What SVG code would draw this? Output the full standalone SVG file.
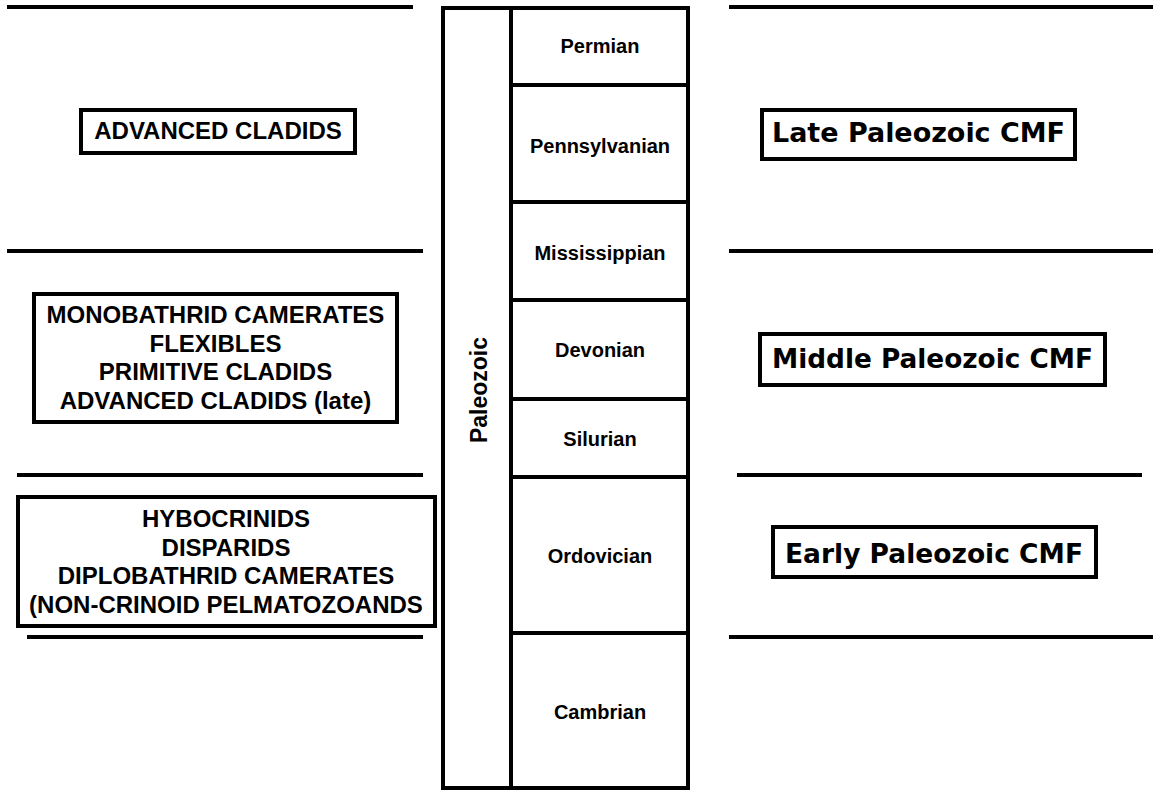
<svg xmlns="http://www.w3.org/2000/svg" width="1156" height="791" viewBox="0 0 1156 791">
<style>
.ln{stroke:#000;stroke-width:4;fill:none}
.bx{stroke:#000;stroke-width:4;fill:#fff}
.lt{font-family:"Liberation Sans",Arial,sans-serif;font-weight:bold;font-size:24px;text-anchor:middle;fill:#000}
.vt{font-family:"Liberation Sans",Arial,sans-serif;font-weight:bold;font-size:23px;text-anchor:middle;fill:#000}
.pt{font-family:"Liberation Sans",Arial,sans-serif;font-weight:bold;font-size:20px;text-anchor:middle;fill:#000}
.ct{font-family:"Comic Sans MS","DejaVu Sans",sans-serif;font-weight:bold;font-size:26px;fill:#000}
</style>
<rect width="1156" height="791" fill="#fff"/>
<g id="connectors">
<line class="ln" x1="7" y1="7" x2="413" y2="7"/>
<line class="ln" x1="7" y1="251" x2="423" y2="251"/>
<line class="ln" x1="17" y1="475" x2="423" y2="475"/>
<line class="ln" x1="27" y1="637" x2="423" y2="637"/>
<line class="ln" x1="729" y1="7" x2="1153" y2="7"/>
<line class="ln" x1="729" y1="251" x2="1153" y2="251"/>
<line class="ln" x1="737" y1="475" x2="1142" y2="475"/>
<line class="ln" x1="729" y1="637" x2="1153" y2="637"/>
</g>
<g id="column">
<rect class="bx" x="443" y="8" width="245" height="780"/>
<line class="ln" x1="511" y1="8" x2="511" y2="788"/>
<line class="ln" x1="511" y1="85" x2="688" y2="85"/>
<line class="ln" x1="511" y1="202" x2="688" y2="202"/>
<line class="ln" x1="511" y1="300" x2="688" y2="300"/>
<line class="ln" x1="511" y1="399" x2="688" y2="399"/>
<line class="ln" x1="511" y1="477" x2="688" y2="477"/>
<line class="ln" x1="511" y1="633" x2="688" y2="633"/>
<text class="vt" transform="translate(487,390) rotate(-90)" x="0" y="0">Paleozoic</text>
<text class="pt" x="600" y="53">Permian</text>
<text class="pt" x="600" y="153">Pennsylvanian</text>
<text class="pt" x="600" y="260">Mississippian</text>
<text class="pt" x="600" y="357">Devonian</text>
<text class="pt" x="600" y="446">Silurian</text>
<text class="pt" x="600" y="563">Ordovician</text>
<text class="pt" x="600" y="719">Cambrian</text>
</g>
<g id="advanced-cladids">
<rect class="bx" x="81" y="110" width="274" height="43"/>
<text class="lt" x="218" y="139">ADVANCED CLADIDS</text>
</g>
<g id="monobathrid">
<rect class="bx" x="34" y="294" width="363" height="128"/>
<text class="lt" x="215.5" y="323">MONOBATHRID CAMERATES</text>
<text class="lt" x="215.5" y="352">FLEXIBLES</text>
<text class="lt" x="215.5" y="380">PRIMITIVE CLADIDS</text>
<text class="lt" x="215.5" y="409">ADVANCED CLADIDS (late)</text>
</g>
<g id="hybocrinids">
<rect class="bx" x="18" y="497" width="417" height="129"/>
<text class="lt" x="226" y="527">HYBOCRINIDS</text>
<text class="lt" x="226" y="556">DISPARIDS</text>
<text class="lt" x="226" y="584">DIPLOBATHRID CAMERATES</text>
<text class="lt" x="226" y="613">(NON-CRINOID PELMATOZOANDS</text>
</g>
<g id="late-cmf">
<rect class="bx" x="762" y="110" width="313" height="49"/>
<text class="ct" x="772" y="142" textLength="293" lengthAdjust="spacingAndGlyphs">Late Paleozoic CMF</text>
</g>
<g id="middle-cmf">
<rect class="bx" x="760" y="334" width="345" height="51"/>
<text class="ct" x="772" y="368" textLength="321" lengthAdjust="spacingAndGlyphs">Middle Paleozoic CMF</text>
</g>
<g id="early-cmf">
<rect class="bx" x="773" y="527" width="323" height="50"/>
<text class="ct" x="785" y="563" textLength="298" lengthAdjust="spacingAndGlyphs">Early Paleozoic CMF</text>
</g>
</svg>
